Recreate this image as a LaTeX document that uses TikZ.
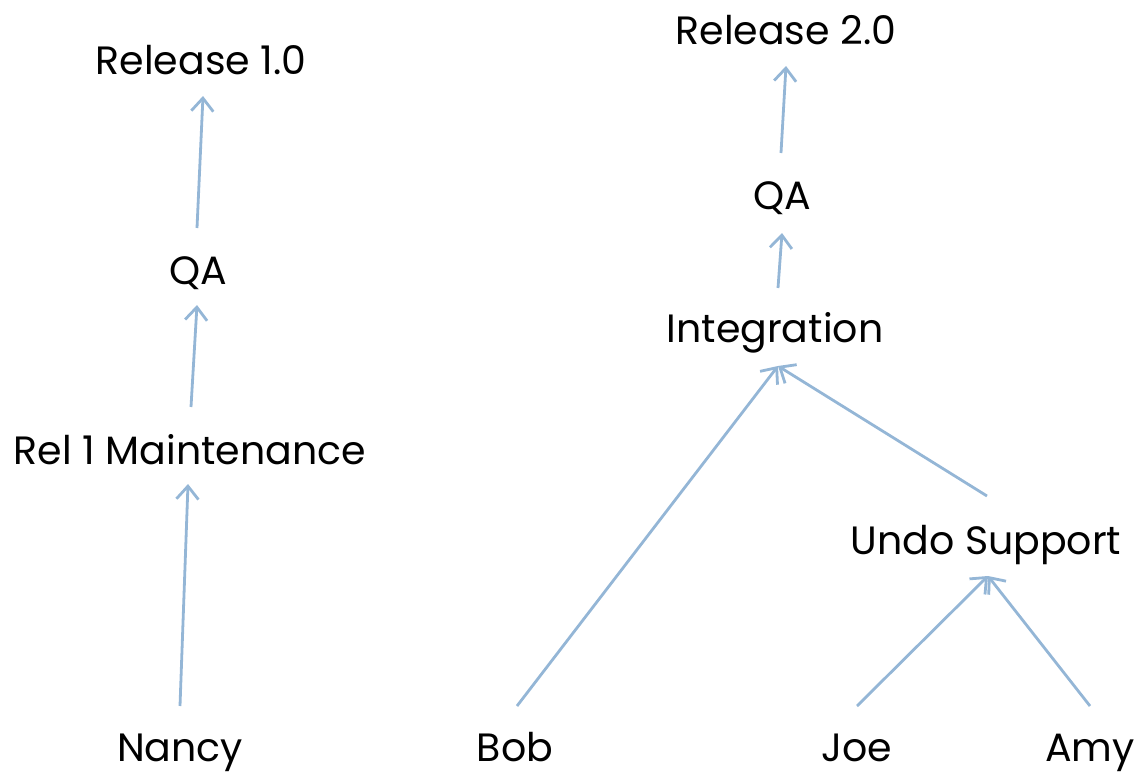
\documentclass[tikz,border=0pt]{standalone}
\usepackage{fontspec}
\setmainfont{Poppins}
\usetikzlibrary{arrows.meta}
\definecolor{arrblue}{HTML}{94B6D6}
\tikzset{
  lbl/.style={inner sep=0pt, anchor=base, font=\fontsize{39.5}{42}\selectfont},
  arr/.style={draw=arrblue, line width=2.8pt, -{Straight Barb[length=13pt,width=22pt,line width=2.8pt]}}
}
\begin{document}
\begin{tikzpicture}[x=1pt,y=-1pt]
\useasboundingbox (0,0) rectangle (1136,774);
\node[lbl] (r1) at (201,74) {Release 1.0};
\node[lbl] (qaL) at (198,284) {QA};
\node[lbl] (rel1) at (190,464) {Rel 1 Maintenance};
\node[lbl] (nancy) at (180,761) {Nancy};
\node[lbl] (r2) at (786,44) {Release 2.0};
\node[lbl] (qaR) at (782,209) {QA};
\node[lbl] (integ) at (775,342) {Integration};
\node[lbl] (undo) at (986,554) {Undo Support};
\node[lbl] (bob) at (515,761) {Bob};
\node[lbl] (joe) at (857,761) {Joe};
\node[lbl] (amy) at (1090,761) {Amy};
\draw[arr] ([shift={(0,-55)}]nancy.base) -- ([shift={(-2,20)}]rel1.base);
\draw[arr] ([shift={(1,-57)}]rel1.base) -- ([shift={(-1,21)}]qaL.base);
\draw[arr] ([shift={(-1,-56)}]qaL.base) -- ([shift={(2,22)}]r1.base);
\draw[arr] ([shift={(2,-55)}]bob.base) -- ([shift={(3,24)}]integ.base);
\draw[arr] ([shift={(1,-58)}]undo.base) -- ([shift={(3,24)}]integ.base);
\draw[arr] ([shift={(3,-54)}]integ.base) -- ([shift={(0,24)}]qaR.base);
\draw[arr] ([shift={(-1,-56)}]qaR.base) -- ([shift={(0,22)}]r2.base);
\draw[arr] ([shift={(0,-55)}]joe.base) -- ([shift={(2,22)}]undo.base);
\draw[arr] ([shift={(0,-55)}]amy.base) -- ([shift={(2,22)}]undo.base);
\end{tikzpicture}
\end{document}
